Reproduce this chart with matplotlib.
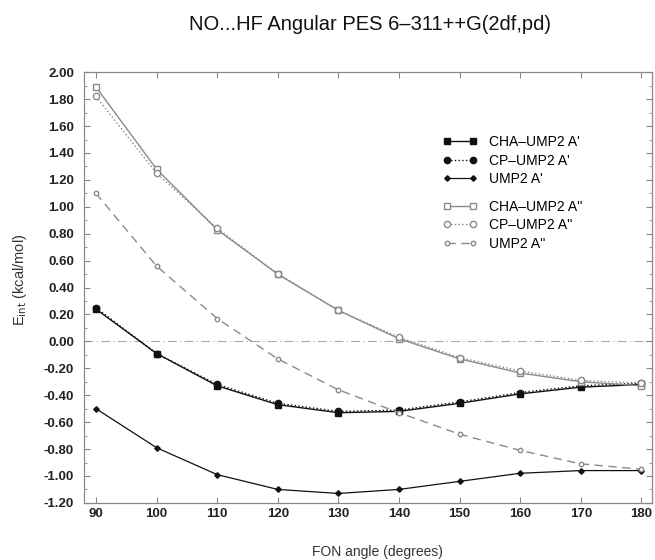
import matplotlib
matplotlib.use("Agg")
import matplotlib.pyplot as plt
from matplotlib.ticker import MultipleLocator, FormatStrFormatter

plt.rcParams['font.family'] = ['Liberation Sans', 'DejaVu Sans']

angles = [90, 100, 110, 120, 130, 140, 150, 160, 170, 180]

cha_ump2_a1 = [0.24, -0.09, -0.33, -0.47, -0.53, -0.52, -0.46, -0.39, -0.34, -0.32]
cp_ump2_a1 = [0.25, -0.09, -0.32, -0.46, -0.52, -0.51, -0.45, -0.38, -0.33, -0.31]
ump2_a1 = [-0.50, -0.79, -0.99, -1.10, -1.13, -1.10, -1.04, -0.98, -0.96, -0.96]

cha_ump2_a2 = [1.89, 1.28, 0.83, 0.50, 0.23, 0.02, -0.13, -0.235, -0.30, -0.33]
cp_ump2_a2 = [1.82, 1.25, 0.84, 0.50, 0.23, 0.03, -0.12, -0.22, -0.29, -0.31]
ump2_a2 = [1.10, 0.56, 0.17, -0.13, -0.36, -0.53, -0.69, -0.81, -0.91, -0.95]

labels_a1 = ["CHA\u2013UMP2 A'", "CP\u2013UMP2 A'", "UMP2 A'"]
labels_a2 = ["CHA\u2013UMP2 A''", "CP\u2013UMP2 A''", "UMP2 A''"]

fig = plt.figure(figsize=(6.55, 5.6), dpi=100)
ax = fig.add_axes([0.128, 0.102, 0.867, 0.769])

blk = '#111111'
gry = '#8a8a8a'

ax.axhline(0, color='#aaaaaa', lw=0.8, ls=(0, (8, 3, 1, 3)), zorder=1)

h1 = ax.plot(angles, cha_ump2_a1, '-', color=blk, lw=1.0, marker='s', ms=4.5, mfc=blk, mec=blk)[0]
h2 = ax.plot(angles, cp_ump2_a1, ':', color=blk, lw=1.0, marker='o', ms=4.5, mfc=blk, mec=blk)[0]
h3 = ax.plot(angles, ump2_a1, '-', color=blk, lw=0.9, marker='D', ms=2.8, mfc=blk, mec=blk)[0]

h4 = ax.plot(angles, cha_ump2_a2, '-', color=gry, lw=1.0, marker='s', ms=4.5, mfc='white', mec=gry)[0]
h5 = ax.plot(angles, cp_ump2_a2, ':', color=gry, lw=1.0, marker='o', ms=4.5, mfc='white', mec=gry)[0]
h6 = ax.plot(angles, ump2_a2, '--', color=gry, lw=1.0, marker='o', ms=3.2, mfc='white', mec=gry,
             dashes=(6, 4))[0]

ax.set_xlim(88, 181.7)
ax.set_ylim(-1.2, 2.0)
ax.set_xticks(angles)
ax.yaxis.set_major_locator(MultipleLocator(0.2))
ax.yaxis.set_minor_locator(MultipleLocator(0.1))
ax.yaxis.set_major_formatter(FormatStrFormatter('%.2f'))
ax.tick_params(axis='both', which='both', direction='in', top=True, right=True,
               colors='#888888', labelcolor='#222222')
ax.tick_params(axis='both', which='major', length=4, labelsize=9.5)
ax.tick_params(axis='y', which='major', pad=7)
ax.tick_params(axis='y', which='minor', length=2)
for lab in ax.get_xticklabels() + ax.get_yticklabels():
    lab.set_fontweight('bold')
for s in ax.spines.values():
    s.set_color('#888888')
    s.set_linewidth(0.9)

fig.text(0.565, 0.957, "NO...HF Angular PES 6\u2013311++G(2df,pd)", ha='center', va='center',
         fontsize=14.5, color='#111111')
fig.text(0.576, 0.015, "FON angle (degrees)", ha='center', va='center', fontsize=10, color='#333333')
fig.text(0.03, 0.5, "E$_{\\rm int}$ (kcal/mol)", ha='center', va='center', rotation=90,
         fontsize=10.5, color='#333333')

leg_kw = dict(loc='upper left', frameon=False, fontsize=10, handlelength=2.5, labelspacing=0.32,
              borderpad=0, handletextpad=0.8, numpoints=2)
leg1 = ax.legend([h1, h2, h3], labels_a1, bbox_to_anchor=(0.62, 0.87), **leg_kw)
ax.add_artist(leg1)
ax.legend([h4, h5, h6], labels_a2, bbox_to_anchor=(0.62, 0.72), **leg_kw)

fig.savefig('out.png', dpi=100)
